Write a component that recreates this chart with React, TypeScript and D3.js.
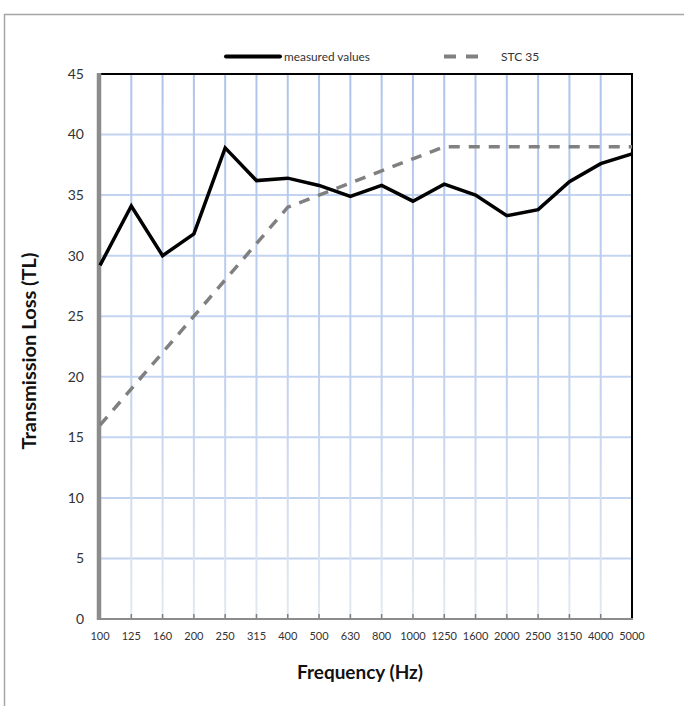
import React from "react";
import * as d3 from "d3";

const frequencies = ["100","125","160","200","250","315","400","500","630","800","1000","1250","1600","2000","2500","3150","4000","5000"];
const measuredValues = [29.2,34.1,30.0,31.8,38.9,36.2,36.4,35.8,34.9,35.8,34.5,35.9,35.0,33.3,33.8,36.1,37.6,38.4];
const stc35Values = [16,19,22,25,28,31,34,35,36,37,38,39,39,39,39,39,39,39];
const yTicks = [0,5,10,15,20,25,30,35,40,45];

const W = 684, H = 706;
const L = 100, R = 632, T = 74, B = 619;
const FONT = "Lato, 'Open Sans', sans-serif";

export default function App() {
  const x = d3.scalePoint<string>().domain(frequencies).range([L, R]);
  const y = d3.scaleLinear().domain([0, 45]).range([B, T]);
  const line = d3.line<number>().x((_, i) => x(frequencies[i]) as number).y(d => y(d));

  return (
    <svg width={W} height={H} style={{ position: "absolute", left: 0, top: 0 }}>
      <defs>
        <linearGradient id="vg" x1="0" y1={T} x2="0" y2={B} gradientUnits="userSpaceOnUse">
          <stop offset="0" stopColor="#aec4ec" />
          <stop offset="0.6" stopColor="#c4d3ee" />
          <stop offset="1" stopColor="#e2e8f3" />
        </linearGradient>
      </defs>
      <rect x={0} y={0} width={W} height={H} fill="#fff" />
      {/* frame */}
      <line x1={4} y1={14.5} x2={W} y2={14.5} stroke="#a6a6a6" strokeWidth={1.5} />
      <line x1={4.5} y1={14} x2={4.5} y2={H} stroke="#a6a6a6" strokeWidth={1.5} />

      {/* horizontal gridlines */}
      {yTicks.filter(t => t > 0 && t < 45).map(t => (
        <line key={"h" + t} x1={L} x2={R} y1={y(t)} y2={y(t)} stroke="#c3d4f0" strokeWidth={2} />
      ))}
      {/* vertical gridlines */}
      {frequencies.slice(1, -1).map(f => (
        <line key={"v" + f} x1={x(f)} x2={x(f)} y1={T} y2={B} stroke="url(#vg)" strokeWidth={2} />
      ))}
      {/* x ticks */}
      {frequencies.slice(1, -1).map(f => (
        <line key={"t" + f} x1={x(f)} x2={x(f)} y1={B - 5} y2={B} stroke="#7f7f7f" strokeWidth={1.5} />
      ))}

      {/* plot border */}
      <line x1={L} x2={R} y1={T} y2={T} stroke="#000" strokeWidth={2} />
      <line x1={R} x2={R} y1={T - 1} y2={B} stroke="#000" strokeWidth={2} />
      <line x1={L} x2={R + 1} y1={B} y2={B} stroke="#8c8c8c" strokeWidth={2} />
      <line x1={99} x2={99} y1={T - 1} y2={B + 1} stroke="#8c8c8c" strokeWidth={4.5} />

      {/* series */}
      <path d={line(stc35Values) || ""} fill="none" stroke="#808080" strokeWidth={3.5} strokeDasharray="11 9" strokeLinecap="butt" />
      <path d={line(measuredValues) || ""} fill="none" stroke="#000" strokeWidth={3.5} strokeLinejoin="miter" />

      {/* y tick labels */}
      {yTicks.map(t => (
        <text key={"yl" + t} x={84} y={y(t)} dy="0.35em" textAnchor="end" fontFamily={FONT} fontSize={14} fill="#333">{t}</text>
      ))}
      {/* x tick labels */}
      {frequencies.map(f => (
        <text key={"xl" + f} x={x(f)} y={640} textAnchor="middle" fontFamily={FONT} fontSize={11} fill="#333">{f}</text>
      ))}

      {/* axis titles */}
      <text x={360} y={679} textAnchor="middle" fontFamily={FONT} fontWeight="bold" fontSize={18.5} textLength={126} lengthAdjust="spacingAndGlyphs" fill="#111">Frequency (Hz)</text>
      <text transform="translate(36,351) rotate(-90)" textAnchor="middle" fontFamily={FONT} fontWeight="bold" fontSize={18.5} textLength={197} lengthAdjust="spacingAndGlyphs" fill="#111">Transmission Loss (TL)</text>

      {/* legend */}
      <line x1={226} x2={280} y1={56.5} y2={56.5} stroke="#000" strokeWidth={4} strokeLinecap="round" />
      <text x={284} y={60.5} fontFamily={FONT} fontSize={12} textLength={86} lengthAdjust="spacingAndGlyphs" fill="#333">measured values</text>
      <line x1={444} x2={488} y1={56.5} y2={56.5} stroke="#808080" strokeWidth={4} strokeDasharray="12 10" strokeLinecap="butt" />
      <text x={501} y={60.5} fontFamily={FONT} fontSize={12} fill="#333">STC 35</text>
    </svg>
  );
}
